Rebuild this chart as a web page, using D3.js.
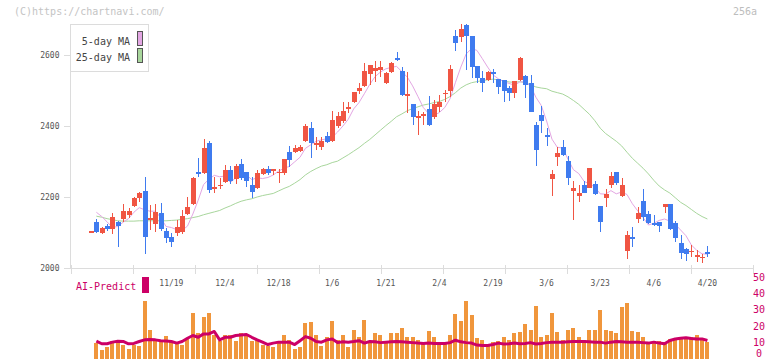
<!DOCTYPE html>
<html><head><meta charset="utf-8">
<script src="https://cdn.jsdelivr.net/npm/d3@7"></script>
<style>
body{margin:0;background:#fff}
svg{display:block;background:#fff}
text{font-family:"DejaVu Sans Mono","Liberation Mono",monospace}
</style>
</head><body>
<svg id="c" width="772" height="361"></svg>
<script>
const dates = ["10/28","10/29","10/30","10/31","11/4","11/5","11/6","11/7","11/10","11/11",
"11/12","11/13","11/14","11/17","11/18","11/19","11/20","11/21","11/25","11/26",
"11/27","11/28","12/1","12/2","12/3","12/4","12/5","12/8","12/9","12/10",
"12/11","12/12","12/15","12/16","12/17","12/18","12/19","12/22","12/23","12/24",
"12/25","12/26","12/29","12/30","1/5","1/6","1/7","1/8","1/9","1/13",
"1/14","1/15","1/16","1/19","1/20","1/21","1/22","1/23","1/26","1/27",
"1/28","1/29","1/30","2/2","2/3","2/4","2/5","2/6","2/9","2/10",
"2/12","2/13","2/16","2/17","2/18","2/19","2/20","2/24","2/25","2/26",
"2/27","3/2","3/3","3/4","3/5","3/6","3/9","3/10","3/11","3/12",
"3/13","3/16","3/17","3/18","3/19","3/23","3/24","3/25","3/26","3/27",
"3/30","3/31","4/1","4/2","4/3","4/6","4/7","4/8","4/9","4/10",
"4/13","4/14","4/15","4/16","4/17","4/20"];

const open = [2101,2130,2099,2118,2110,2130,2138,2148,2175,2198,
2217,2135,2125,2156,2105,2086,2098,2102,2152,2180,
2271,2267,2351,2224,2232,2243,2276,2250,2292,2270,
2234,2225,2264,2280,2273,2267,2267,2326,2328,2330,
2359,2394,2346,2340,2372,2359,2400,2415,2447,2469,
2500,2514,2546,2556,2558,2521,2553,2591,2555,2486,
2462,2424,2429,2448,2426,2454,2489,2499,2654,2652,
2684,2654,2569,2536,2530,2551,2531,2530,2508,2494,
2530,2541,2522,2403,2431,2375,2250,2313,2340,2302,
2218,2203,2234,2226,2237,2175,2196,2234,2271,2203,
2049,2086,2138,2189,2152,2126,2130,2171,2180,2128,
2070,2054,2044,2032,2029,2045];

const high = [2104,2138,2116,2124,2156,2131,2180,2169,2200,2215,
2257,2177,2180,2183,2113,2099,2135,2163,2199,2256,
2310,2363,2358,2257,2254,2290,2287,2292,2306,2270,
2257,2276,2282,2288,2280,2278,2306,2345,2346,2346,
2405,2412,2370,2370,2384,2442,2439,2468,2468,2497,
2520,2577,2572,2584,2584,2553,2580,2609,2566,2553,
2462,2443,2440,2485,2473,2487,2501,2572,2670,2687,
2687,2654,2569,2555,2555,2560,2533,2530,2513,2527,
2594,2544,2544,2410,2456,2393,2276,2340,2361,2316,
2245,2234,2245,2283,2246,2175,2222,2271,2271,2253,
2105,2115,2171,2223,2161,2149,2130,2180,2180,2133,
2093,2057,2065,2051,2039,2062];

const low = [2100,2099,2097,2105,2095,2060,2130,2141,2172,2185,
2039,2107,2102,2105,2071,2060,2091,2095,2150,2177,
2257,2265,2212,2212,2222,2240,2238,2238,2248,2229,
2198,2222,2262,2262,2261,2240,2262,2284,2325,2328,
2355,2310,2332,2332,2352,2355,2395,2409,2437,2465,
2490,2510,2515,2525,2537,2518,2550,2583,2485,2436,
2403,2375,2403,2400,2420,2440,2467,2483,2611,2636,
2558,2534,2520,2497,2527,2520,2490,2467,2470,2480,
2527,2480,2440,2287,2381,2344,2203,2287,2316,2234,
2135,2187,2210,2224,2205,2102,2173,2224,2235,2200,
2025,2058,2128,2133,2125,2118,2102,2156,2108,2074,
2025,2021,2030,2018,2015,2032];

const close = [2103,2102,2113,2109,2144,2119,2161,2161,2198,2212,
2088,2141,2159,2110,2085,2073,2115,2146,2173,2254,
2266,2337,2220,2228,2235,2276,2245,2287,2254,2246,
2215,2267,2280,2268,2279,2271,2306,2304,2337,2340,
2400,2353,2353,2359,2356,2417,2428,2442,2454,2497,
2508,2555,2572,2562,2565,2550,2577,2586,2487,2489,
2424,2428,2433,2403,2461,2467,2494,2561,2633,2673,
2654,2567,2536,2520,2551,2546,2511,2499,2494,2527,
2591,2515,2440,2331,2414,2368,2264,2325,2318,2253,
2226,2210,2212,2283,2208,2130,2208,2259,2240,2234,
2093,2081,2156,2145,2128,2121,2118,2180,2111,2085,
2041,2039,2049,2037,2032,2040];

const ma5 = [null,2157,2145,2130,2114,2117,2129,2139,2157,2170,
2164,2160,2160,2142,2117,2114,2108,2106,2118,2152,
2191,2235,2250,2261,2257,2259,2241,2254,2259,2262,
2249,2254,2252,2255,2262,2273,2281,2286,2299,2312,
2337,2347,2357,2361,2364,2368,2383,2400,2419,2448,
2466,2491,2517,2539,2552,2561,2565,2568,2553,2538,
2513,2483,2452,2435,2430,2438,2452,2477,2523,2566,
2603,2618,2613,2590,2566,2544,2533,2525,2520,2515,
2524,2525,2513,2481,2458,2414,2363,2340,2338,2306,
2277,2266,2244,2237,2228,2209,2208,2218,2209,2214,
2207,2181,2161,2142,2121,2126,2134,2138,2132,2123,
2107,2091,2065,2050,2040,2039];

const ma25 = [null,2146,2143,2139,2136,2133,2132,2132,2132,2133,
2133,2133,2133,2133,2133,2134,2135,2137,2139,2142,
2145,2150,2154,2158,2162,2169,2175,2182,2188,2192,
2195,2200,2204,2207,2210,2217,2224,2230,2239,2249,
2262,2272,2280,2287,2291,2297,2301,2310,2319,2329,
2339,2351,2362,2375,2388,2401,2413,2426,2434,2443,
2449,2454,2459,2462,2466,2469,2475,2483,2494,2507,
2516,2522,2525,2528,2530,2532,2530,2527,2524,2523,
2525,2522,2516,2510,2507,2505,2498,2494,2490,2482,
2472,2461,2447,2433,2415,2394,2379,2368,2357,2344,
2326,2309,2295,2281,2265,2247,2231,2220,2211,2198,
2185,2176,2165,2154,2145,2138];

const volume = [null,9.4,5.5,7.0,11.1,11.7,8.6,5.6,8.6,8.0,
35.2,17.3,12.1,11.7,13.6,10.7,10.1,8.6,12.3,28.0,
15.6,25.9,28.0,14.2,10.7,14.8,14.2,11.1,15.6,14.8,
11.1,11.7,8.6,8.0,7.4,11.1,14.2,11.7,5.6,7.4,
21.8,22.4,14.2,8.0,13.1,22.9,11.7,14.2,7.0,17.9,
13.5,23.5,10.5,15.6,14.2,11.1,15.6,15.6,18.7,13.1,
13.1,11.7,10.1,16.7,13.1,10.1,10.1,14.2,27.6,22.9,
35.2,26.7,12.5,11.7,8.0,10.1,11.1,13.1,11.7,15.8,
16.2,21.0,17.7,32.7,13.1,14.6,28.0,16.2,11.7,17.9,
18.7,13.5,11.5,17.3,17.3,30.2,17.3,16.7,15.6,31.7,
34.2,16.7,16.2,13.5,10.1,10.1,11.1,10.1,12.1,11.7,
13.1,12.1,13.5,14.2,12.1,10.1];

const aiPredict = [null,10.7,9.1,9.1,10.1,10.7,10.5,9.1,9.3,10.5,
11.5,11.7,11.5,11.0,10.8,10.5,9.5,10.5,12.5,14.2,
13.1,15.2,15.2,16.7,11.5,13.1,13.1,14.2,14.5,14.8,
13.1,11.5,10.1,8.6,9.5,10.1,10.1,10.1,8.6,11.0,
13.5,12.5,10.5,10.1,11.5,12.0,9.8,10.3,10.1,10.5,
11.0,9.5,10.5,10.3,9.8,10.1,10.3,10.5,10.3,10.1,
9.8,9.5,9.3,9.5,9.3,9.3,9.3,9.8,11.3,10.3,
9.8,9.5,8.3,8.0,8.0,8.6,9.5,8.9,9.1,9.5,
9.1,9.3,9.8,9.0,9.3,9.8,10.1,10.1,10.1,10.3,
10.5,10.5,10.5,10.3,10.1,10.1,9.5,10.1,10.5,10.3,
10.1,10.1,10.1,9.8,9.5,10.1,9.5,9.1,11.1,12.0,
12.5,12.8,12.3,12.1,12.1,11.1];

const priceTicks = [2000,2200,2400,2600];
const dateLabels = ["11/19","12/4","12/18","1/6","1/21","2/4","2/19","3/6","3/23","4/6","4/20"];
const volTicks = [0,10,20,30,40,50];
const legendLabels = ["5-day MA","25-day MA"];

const svg = d3.select("#c");
const C_UP = "#f05543", C_DN = "#3f7bef", C_MA5 = "#e3a6e3", C_MA25 = "#a8d69c",
      C_AX = "#dcdcdc", C_AI = "#cc0066", C_VOL = "#f0963c";

const x = d3.scalePoint().domain(dates).range([91, 707.4]);
const y = d3.scaleLinear().domain([2000, 2600]).range([268, 55]);
const yv = d3.scaleLinear().domain([0, 50]).range([358.5, 277.5]);
const tickPos = d3.scaleLinear().domain([0, 11]).range([70.5, 752.5]);

// watermark
svg.append("text").attr("x", 14).attr("y", 15).attr("font-size", 10).attr("fill", "#c4c4c4")
  .text("(C)https://chartnavi.com/");
svg.append("text").attr("x", 733).attr("y", 15).attr("font-size", 10).attr("fill", "#bdbdbd").text("256a");

// axes
svg.append("line").attr("x1", 70.5).attr("x2", 70.5).attr("y1", 24).attr("y2", 268.5)
  .attr("stroke", C_AX);
svg.append("line").attr("x1", 70).attr("x2", 753).attr("y1", 268.5).attr("y2", 268.5)
  .attr("stroke", C_AX);
svg.append("g").selectAll("line").data(d3.range(12)).join("line")
  .attr("x1", d => Math.round(tickPos(d)) + 0.5).attr("x2", d => Math.round(tickPos(d)) + 0.5)
  .attr("y1", 265).attr("y2", 274).attr("stroke", C_AX);
const yt = svg.append("g");
yt.selectAll("line").data(priceTicks).join("line")
  .attr("x1", 64).attr("x2", 70).attr("y1", d => Math.round(y(d)) + 0.5).attr("y2", d => Math.round(y(d)) + 0.5)
  .attr("stroke", C_AX);
yt.selectAll("text").data(priceTicks).join("text")
  .attr("x", 59.5).attr("y", d => y(d)).attr("dy", "0.35em").attr("text-anchor", "end")
  .attr("font-size", 8).attr("fill", "#555").text(d => d);

// date labels
svg.append("g").selectAll("text").data(dateLabels).join("text")
  .attr("x", d => x(d)).attr("y", 283).attr("dy", "0.35em").attr("text-anchor", "middle")
  .attr("font-size", 8).attr("fill", "#555").text(d => d);

// MA lines
const idx = d3.range(dates.length);
const maLine = arr => d3.line().defined(i => arr[i] != null).x(i => x(dates[i])).y(i => y(arr[i]));
svg.append("path").datum(idx).attr("d", maLine(ma25)).attr("fill", "none")
  .attr("stroke", C_MA25).attr("stroke-width", 1);
svg.append("path").datum(idx).attr("d", maLine(ma5)).attr("fill", "none")
  .attr("stroke", C_MA5).attr("stroke-width", 1);

// candles
const cg = svg.append("g").attr("shape-rendering", "crispEdges");
const col = i => close[i] >= open[i] ? C_UP : C_DN;
cg.selectAll("line").data(idx).join("line")
  .attr("x1", i => Math.round(x(dates[i])) + 0.5).attr("x2", i => Math.round(x(dates[i])) + 0.5)
  .attr("y1", i => y(high[i])).attr("y2", i => y(low[i])).attr("stroke", col);
cg.selectAll("rect").data(idx).join("rect")
  .attr("x", i => Math.round(x(dates[i])) - 2).attr("width", 5)
  .attr("y", i => y(Math.max(open[i], close[i])))
  .attr("height", i => Math.max(1.5, y(Math.min(open[i], close[i])) - y(Math.max(open[i], close[i]))))
  .attr("fill", col);

// legend
const lg = svg.append("g");
lg.append("rect").attr("x", 70.5).attr("y", 24.5).attr("width", 78).attr("height", 47)
  .attr("fill", "#fff").attr("stroke", "#dcdcdc");
lg.selectAll("text").data(legendLabels).join("text")
  .attr("x", 130).attr("y", (d, i) => 41 + i * 16).attr("dy", "0.35em").attr("text-anchor", "end")
  .attr("font-size", 10).attr("fill", "#444").text(d => d);
lg.selectAll("rect.sw").data([C_MA5, C_MA25]).join("rect").attr("class", "sw")
  .attr("x", 137.5).attr("y", (d, i) => 31.5 + i * 17).attr("width", 5).attr("height", 14)
  .attr("fill", d => d).attr("stroke", "#555");

// volume
const vg = svg.append("g").attr("shape-rendering", "crispEdges");
vg.selectAll("rect").data(idx.filter(i => volume[i] != null)).join("rect")
  .attr("x", i => Math.round(x(dates[i])) - 2).attr("width", 4)
  .attr("y", i => yv(volume[i])).attr("height", i => yv(0) - yv(volume[i]))
  .attr("fill", C_VOL);
svg.append("path").datum(idx).attr("fill", "none").attr("stroke", C_AI).attr("stroke-width", 3)
  .attr("stroke-linejoin", "round")
  .attr("d", d3.line().defined(i => aiPredict[i] != null).x(i => x(dates[i])).y(i => yv(aiPredict[i])));

// volume axis labels
svg.append("g").selectAll("text").data(volTicks).join("text")
  .attr("x", 759).attr("y", d => Math.min(yv(d), 353.5)).attr("dy", "0.35em").attr("text-anchor", "middle")
  .attr("font-size", 10).attr("fill", C_AI).text(d => d);

// AI-Predict label
svg.append("text").attr("x", 76).attr("y", 286).attr("dy", "0.35em").attr("font-size", 10)
  .attr("fill", C_AI).text("AI-Predict");
svg.append("rect").attr("x", 142).attr("y", 277).attr("width", 7).attr("height", 16).attr("fill", C_AI);
</script>
</body></html>
